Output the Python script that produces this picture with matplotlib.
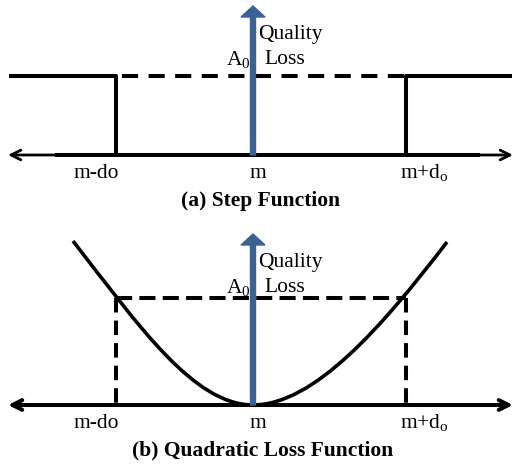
import matplotlib.pyplot as plt
from matplotlib.path import Path
from matplotlib.patches import PathPatch

plt.rcParams['font.family'] = 'Liberation Serif'
plt.rcParams['mathtext.fontset'] = 'custom'
plt.rcParams['mathtext.rm'] = 'Liberation Serif'

# diagram positions (pixel units)
x_ends = [8, 513]
x_marks = [116, 253, 406]          # m-do, m, m+do
tick_labels = ['m-do', 'm', 'm+d$_\\mathrm{o}$']
label_x = [96, 258, 424]

axis_y = [155, 405]                # top / bottom panel baseline
level_y = [76, 298]                # A0 level
arrow_top = [6, 234]
captions = ['(a) Step Function', '(b) Quadratic Loss Function']
caption_pos = [(261, 201), (263, 450)]

# quadratic loss curve as bezier control points
curve_x = [73, 139, 194, 253, 314, 382, 447]
curve_y = [241, 326, 405, 405, 405, 327, 242]

blue = '#3d6192'
lw_main = 2.9
fs = 15.5

fig = plt.figure(figsize=(5.17, 4.66), dpi=100)
ax = fig.add_axes([0, 0, 1, 1])
ax.set_xlim(0, 517)
ax.set_ylim(466, 0)
ax.axis('off')

for p in range(2):
    y0 = axis_y[p]
    yl = level_y[p]
    # horizontal axis with open arrowheads
    ax.annotate('', xy=(x_ends[0], y0), xytext=(x_ends[1], y0),
                arrowprops=dict(arrowstyle='<->,head_length=0.7,head_width=0.35',
                                lw=2.0 if p == 0 else lw_main, color='black',
                                shrinkA=0, shrinkB=0))
    if p == 0:
        ax.plot([55, 480], [y0, y0], color='black', lw=lw_main, solid_capstyle='butt')
        # step function
        ax.plot([x_ends[0] + 1, x_marks[0], x_marks[0]], [yl, yl, y0],
                color='black', lw=lw_main, solid_capstyle='butt')
        ax.plot([x_ends[1] - 1, x_marks[2], x_marks[2]], [yl, yl, y0],
                color='black', lw=lw_main, solid_capstyle='butt')
        ax.plot([x_marks[0] + 6, x_marks[2]], [yl, yl], color='black', lw=lw_main,
                dashes=(4.0, 2.6), solid_capstyle='butt')
    else:
        verts = list(zip(curve_x, curve_y))
        codes = [Path.MOVETO] + [Path.CURVE4] * 6
        ax.add_patch(PathPatch(Path(verts, codes), fill=False, lw=2.6,
                               edgecolor='black'))
        ax.plot([x_marks[0], x_marks[2]], [yl, yl], color='black', lw=lw_main,
                dashes=(4.0, 1.8), dash_capstyle='butt')
        for xm in (x_marks[0], x_marks[2]):
            ax.plot([xm, xm], [yl, y0], color='black', lw=lw_main,
                    dashes=(3.6, 2.0), dash_capstyle='butt')

    # quality loss axis
    ax.arrow(x_marks[1], y0, 0, arrow_top[p] - y0, width=5, head_width=24,
             head_length=11, length_includes_head=True, color=blue, zorder=5)

    ax.text(258, arrow_top[p] + 29, 'Quality', fontsize=fs, ha='left', va='center')
    ax.text(264, arrow_top[p] + 54, 'Loss', fontsize=fs, ha='left', va='center')
    ax.text(251, arrow_top[p] + 54, 'A$_0$', fontsize=fs, ha='right', va='center')

    for lx, lab in zip(label_x, tick_labels):
        ax.text(lx, y0 + 18, lab, fontsize=fs, ha='center', va='center')

    ax.text(caption_pos[p][0], caption_pos[p][1], captions[p], fontsize=fs,
            fontweight='bold', ha='center', va='center')

fig.savefig('out.png', dpi=100)
